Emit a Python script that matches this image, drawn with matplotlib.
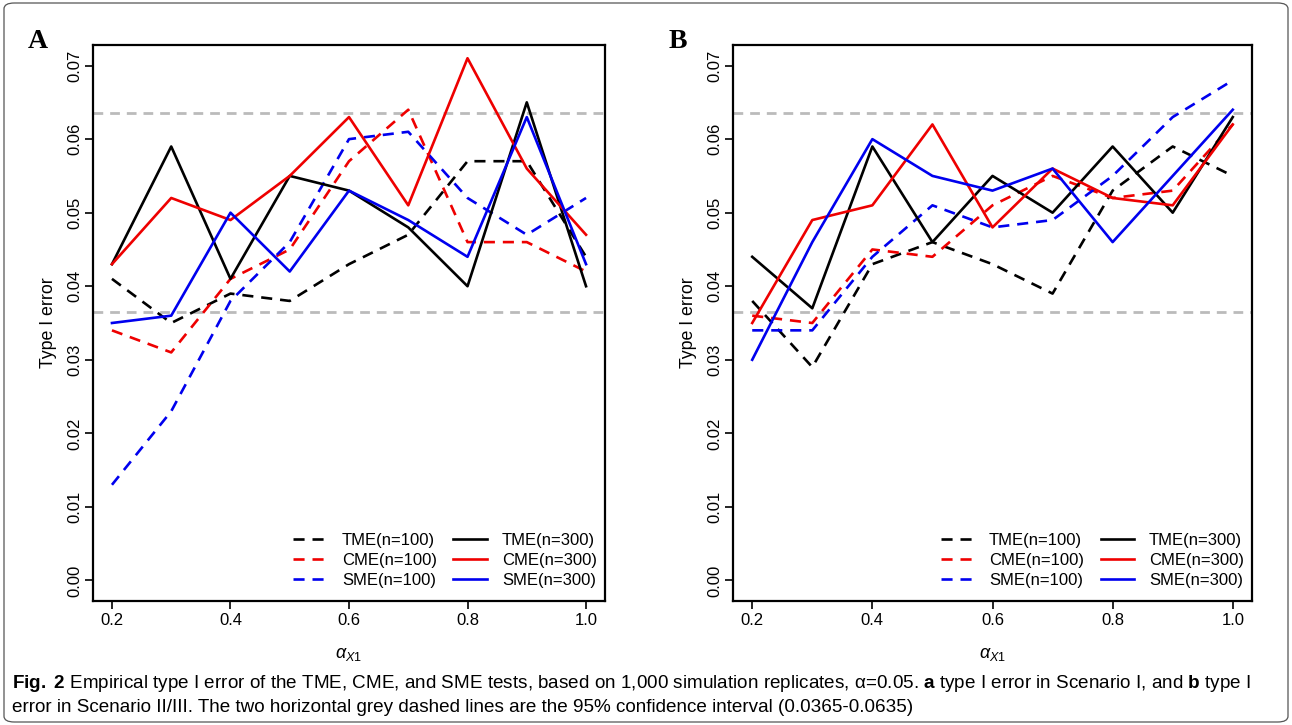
import matplotlib
matplotlib.use("Agg")
import matplotlib.pyplot as plt
from matplotlib.patches import FancyBboxPatch
from matplotlib.lines import Line2D

alpha_x1 = [0.2, 0.3, 0.4, 0.5, 0.6, 0.7, 0.8, 0.9, 1.0]

# Panel A (Scenario I)
a_tme100 = [0.041, 0.035, 0.039, 0.038, 0.043, 0.047, 0.057, 0.057, 0.044]
a_cme100 = [0.034, 0.031, 0.041, 0.045, 0.057, 0.064, 0.046, 0.046, 0.042]
a_sme100 = [0.013, 0.023, 0.038, 0.046, 0.060, 0.061, 0.052, 0.047, 0.052]
a_tme300 = [0.043, 0.059, 0.041, 0.055, 0.053, 0.048, 0.040, 0.065, 0.040]
a_cme300 = [0.043, 0.052, 0.049, 0.055, 0.063, 0.051, 0.071, 0.056, 0.047]
a_sme300 = [0.035, 0.036, 0.050, 0.042, 0.053, 0.049, 0.044, 0.063, 0.043]

# Panel B (Scenario II/III)
b_tme100 = [0.038, 0.029, 0.043, 0.046, 0.043, 0.039, 0.053, 0.059, 0.055]
b_cme100 = [0.036, 0.035, 0.045, 0.044, 0.051, 0.055, 0.052, 0.053, 0.062]
b_sme100 = [0.034, 0.034, 0.044, 0.051, 0.048, 0.049, 0.055, 0.063, 0.068]
b_tme300 = [0.044, 0.037, 0.059, 0.046, 0.055, 0.050, 0.059, 0.050, 0.063]
b_cme300 = [0.035, 0.049, 0.051, 0.062, 0.048, 0.056, 0.052, 0.051, 0.062]
b_sme300 = [0.030, 0.046, 0.060, 0.055, 0.053, 0.056, 0.046, 0.055, 0.064]

ci_bounds = [0.0365, 0.0635]
x_ticks = [0.2, 0.4, 0.6, 0.8, 1.0]
y_ticks = [0.00, 0.01, 0.02, 0.03, 0.04, 0.05, 0.06, 0.07]
series_labels = ["TME(n=100)", "CME(n=100)", "SME(n=100)",
                 "TME(n=300)", "CME(n=300)", "SME(n=300)"]
colors = ["black", "#ee0000", "#0000ee"]

plt.rcParams['font.family'] = ['Liberation Sans', 'DejaVu Sans']
plt.rcParams['mathtext.fontset'] = 'custom'
plt.rcParams['mathtext.rm'] = 'Liberation Sans'
plt.rcParams['mathtext.it'] = 'Liberation Sans:italic'
plt.rcParams['mathtext.bf'] = 'Liberation Sans:bold'

W, H = 1292, 725
fig = plt.figure(figsize=(W / 100, H / 100), dpi=100)

# outer rounded frame
frame = FancyBboxPatch((4 / W, 3 / H), (W - 8) / W, (H - 6) / H,
                       boxstyle="round,pad=0,rounding_size=0.008",
                       transform=fig.transFigure, fill=False,
                       edgecolor="#555555", linewidth=0.9)
fig.patches.append(frame)

def make_axes(left_px, right_px, top_px, bottom_px):
    return fig.add_axes([left_px / W, 1 - bottom_px / H,
                         (right_px - left_px) / W, (bottom_px - top_px) / H])

axA = make_axes(93, 605, 45, 601)
axB = make_axes(733, 1252, 45, 601)

dash_pat = (4.2, 3.0)

def draw_panel(ax, data100, data300, letter, letter_x):
    for d, c in zip(data100, colors):
        ax.plot(alpha_x1, d, color=c, lw=1.9, dashes=dash_pat)
    for d, c in zip(data300, colors):
        ax.plot(alpha_x1, d, color=c, lw=1.9)
    for b in ci_bounds:
        ax.axhline(b, color="#bbbbbb", lw=2.0, dashes=(3.5, 2.5), zorder=0.5)
    ax.set_xlim(0.168, 1.032)
    ax.set_ylim(-0.0028, 0.0728)
    ax.set_xticks(x_ticks)
    ax.set_xticklabels([f"{v:.1f}" for v in x_ticks])
    ax.set_yticks(y_ticks)
    ax.set_yticklabels([f"{v:.2f}" for v in y_ticks], rotation=90, va="center")
    ax.tick_params(direction="out", length=5.5, width=1.2, labelsize=12,
                   colors="black")
    ax.tick_params(axis="x", pad=3)
    ax.tick_params(axis="y", pad=2.5)
    for s in ax.spines.values():
        s.set_linewidth(1.6)
    ax.set_ylabel("Type I error", fontsize=12.8, labelpad=7)
    ax.set_xlabel(r"$\alpha_{X1}$", fontsize=13, labelpad=13)
    handles = []
    for c in colors:
        handles.append(Line2D([0], [0], color=c, lw=1.9, dashes=dash_pat))
    for c in colors:
        handles.append(Line2D([0], [0], color=c, lw=1.9))
    ax.legend(handles, series_labels, ncol=2, loc="lower right",
              frameon=False, fontsize=12, handlelength=2.0,
              handletextpad=0.9, columnspacing=1.0, labelspacing=0.3,
              borderaxespad=0.4, bbox_to_anchor=(1.01, 0.0))
    fig.text(letter_x / W, 1 - 42 / H, letter, fontsize=20, fontweight="bold",
             family="Liberation Serif", ha="left", va="center")

draw_panel(axA, [a_tme100, a_cme100, a_sme100],
           [a_tme300, a_cme300, a_sme300], "A", 28)
draw_panel(axB, [b_tme100, b_cme100, b_sme100],
           [b_tme300, b_cme300, b_sme300], "B", 669)

cap_font = ['Liberation Sans', 'DejaVu Sans']
line1 = (" Empirical type I error of the TME, CME, and SME tests, based on 1,000 "
         "simulation replicates, \u03b1=0.05. ")
fig.text(12 / W, 1 - 683 / H,
         r"$\bf{Fig.\ 2}$" + line1 + r"$\bf{a}$" + " type I error in Scenario I, and "
         + r"$\bf{b}$" + " type I",
         fontsize=13.6, family=cap_font, va="center", ha="left")
fig.text(12 / W, 1 - 708 / H,
         "error in Scenario II/III. The two horizontal grey dashed lines are the "
         "95% confidence interval (0.0365-0.0635)",
         fontsize=13.6, family=cap_font, va="center", ha="left")

fig.savefig("out.png", dpi=100)
